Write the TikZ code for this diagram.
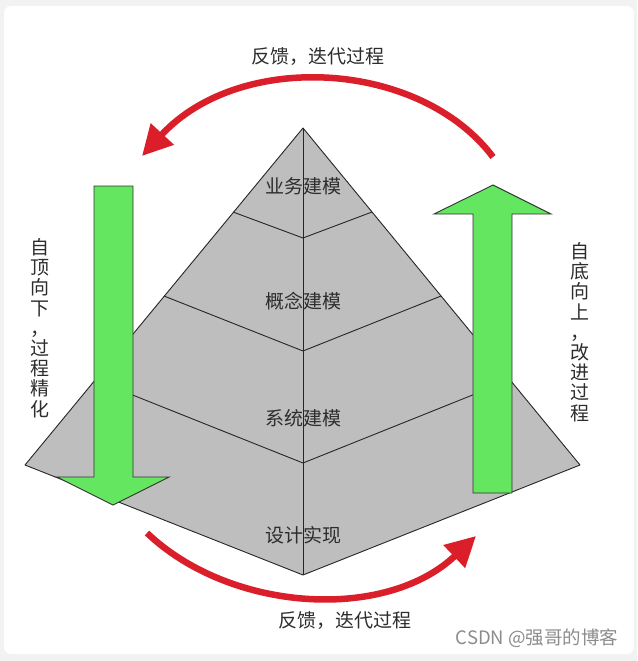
\documentclass[tikz,border=0pt]{standalone}
\usepackage{fontspec}
\newfontfamily\cjk{Noto Sans CJK SC}
\usetikzlibrary{arrows.meta}
\definecolor{pyrgray}{RGB}{190,190,190}
\definecolor{arrgreen}{RGB}{100,230,96}
\definecolor{fbred}{RGB}{218,30,42}
\definecolor{txtgray}{RGB}{45,45,45}
\definecolor{bggray}{RGB}{242,242,242}
\begin{document}
\begin{tikzpicture}[x=1pt,y=-1pt,
  edge/.style={draw=black!85, line width=0.9pt},
  greenarrow/.style={fill=arrgreen, draw=black!80, line width=0.9pt, line join=miter},
  redarc/.style={draw=fbred, line width=6.5pt, -{Triangle[length=30pt,width=30pt]}},
  label/.style={font=\cjk\fontsize{19}{20}\selectfont, text=txtgray, inner sep=0pt},
  vlabel/.style={font=\cjk\fontsize{19}{20.2}\selectfont, text=txtgray, align=center, inner sep=0pt}]
\fill[bggray] (0,0) rectangle (637,661);
\fill[white, rounded corners=7] (4,6) rectangle (634,654);
\useasboundingbox (0,0) rectangle (637,661);
% pyramid
\coordinate (A) at (303,128);
\coordinate (L) at (25,465);
\coordinate (B) at (303,575);
\coordinate (R) at (580,465);
\coordinate (l1) at (233,212); \coordinate (v1) at (303,238); \coordinate (r1) at (372,212);
\coordinate (l2) at (164,296); \coordinate (v2) at (303,351); \coordinate (r2) at (441,296);
\coordinate (l3) at (95,380);  \coordinate (v3) at (303,463); \coordinate (r3) at (510,380);
\fill[pyrgray] (A) -- (L) -- (B) -- (R) -- cycle;
\draw[edge, line join=round] (A) -- (L) -- (B) -- (R) -- cycle;
\draw[edge] (A) -- (B);
\draw[edge] (l1) -- (v1) -- (r1);
\draw[edge] (l2) -- (v2) -- (r2);
\draw[edge] (l3) -- (v3) -- (r3);
% layer labels
\node[label] (n1) at (303,186) {业务建模};
\node[label] (n2) at (303,301) {概念建模};
\node[label] (n3) at (303,418) {系统建模};
\node[label] (n4) at (303,535) {设计实现};
% green arrows
\draw[greenarrow] (94,186) -- (133,186) -- (133,477) -- (169,477) -- (113,505) -- (57,477) -- (94,477) -- cycle;
\draw[greenarrow] (473,493) -- (512,493) -- (512,214) -- (551,214) -- (493,185) -- (434,214) -- (473,214) -- cycle;
% red feedback arcs
\coordinate (t0) at (493,157);
\coordinate (t1) at (142,156);
\draw[redarc] (t0) .. controls (420,60) and (240,50) .. (t1);
\coordinate (b0) at (147,533);
\coordinate (b1) at (476,536);
\draw[redarc] (b0) .. controls (230,612) and (385,622) .. (b1);
% texts
\node[label] (top) at (318,57) {反馈，迭代过程};
\node[label] (bot) at (345,621) {反馈，迭代过程};
\node[vlabel] (left) at (40,328) {自\\顶\\向\\下\\，\\过\\程\\精\\化};
\node[vlabel] (right) at (580,332) {自\\底\\向\\上\\，\\改\\进\\过\\程};
\node[font=\cjk\fontsize{18.5}{20}\selectfont, text=black!45, inner sep=0pt] (wm) at (537,638) {CSDN @强哥的博客};
\end{tikzpicture}
\end{document}
